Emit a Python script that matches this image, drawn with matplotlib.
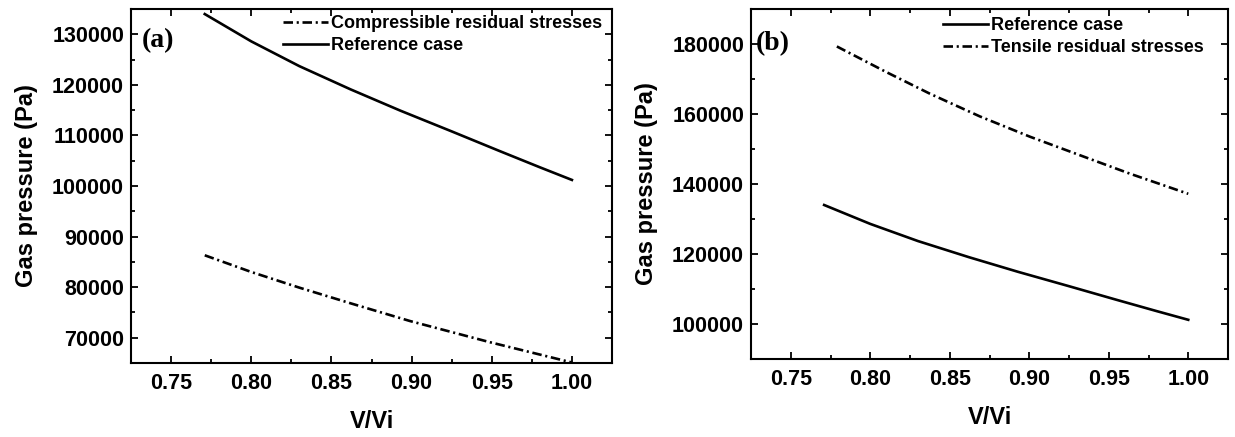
import numpy as np
import matplotlib.pyplot as plt
from matplotlib.ticker import MultipleLocator, AutoMinorLocator

# values
v_ref = [0.771, 0.80, 0.83, 0.862, 0.893, 0.925, 0.955, 0.98, 1.00]
p_ref = [134000, 128600, 123700, 119100, 114900, 110800, 106900, 103700, 101200]

v_comp = [0.771, 0.80, 0.83, 0.862, 0.899, 0.949, 1.00]
p_comp = [86300, 83000, 79900, 76800, 73300, 69100, 65100]

v_tens = [0.779, 0.81, 0.8375, 0.869, 0.9005, 0.932, 0.963, 1.00]
p_tens = [179300, 172000, 165800, 159300, 153500, 148200, 143000, 137200]

plt.rcParams['font.family'] = 'Liberation Sans'
plt.rcParams['font.weight'] = 'bold'

W, H = 1235, 437
fig = plt.figure(figsize=(W / 100, H / 100), dpi=100)
ax1 = fig.add_axes([131/W, 1 - 363/H, (612-131)/W, (363-9)/H])
ax2 = fig.add_axes([751/W, 1 - 359/H, (1228-751)/W, (359-9)/H])

dashdot = (0, (3.6, 1.4, 0.8, 1.4))

ax1.plot(v_comp, p_comp, color='black', lw=1.9, linestyle=dashdot, label='Compressible residual stresses')
ax1.plot(v_ref, p_ref, color='black', lw=1.9, label='Reference case')
ax1.set_ylim(65000, 135000)
ax1.yaxis.set_major_locator(MultipleLocator(10000))
ax1.yaxis.set_minor_locator(AutoMinorLocator(2))

ax2.plot(v_ref, p_ref, color='black', lw=1.9, label='Reference case')
ax2.plot(v_tens, p_tens, color='black', lw=1.9, linestyle=dashdot, label='Tensile residual stresses')
ax2.set_ylim(90000, 190000)
ax2.yaxis.set_major_locator(MultipleLocator(20000))
ax2.yaxis.set_minor_locator(AutoMinorLocator(2))

for ax, tag, tx, ty, lx, ly in [(ax1, '(a)', 0.023, 0.91, 0.316, 0.982),
                                (ax2, '(b)', 0.011, 0.90, 0.4025, 0.976)]:
    ax.set_xlim(0.725, 1.025)
    ax.xaxis.set_major_locator(MultipleLocator(0.05))
    ax.xaxis.set_minor_locator(AutoMinorLocator(2))
    ax.tick_params(which='both', direction='in', top=True, right=True, labelsize=15.5, width=1.3)
    ax.tick_params(which='major', length=5)
    ax.tick_params(which='minor', length=3)
    ax.tick_params(axis='x', pad=7)
    ax.tick_params(axis='y', pad=5)
    ax.xaxis.set_major_formatter(plt.FormatStrFormatter('%.2f'))
    for s in ax.spines.values():
        s.set_linewidth(1.5)
    ax.set_xlabel('V/Vi', fontsize=17, fontweight='bold', labelpad=12)
    ax.set_ylabel('Gas pressure (Pa)', fontsize=17, fontweight='bold', labelpad=10)
    ax.text(tx, ty, tag, transform=ax.transAxes, family='Liberation Serif',
            fontsize=20, fontweight='bold', va='center', ha='left')
    ax.legend(loc='upper left', bbox_to_anchor=(lx, ly), frameon=False, fontsize=13,
              handlelength=2.5, handletextpad=0.15, borderaxespad=0, borderpad=0,
              labelspacing=0.28)

fig.savefig('out.png', dpi=100)
